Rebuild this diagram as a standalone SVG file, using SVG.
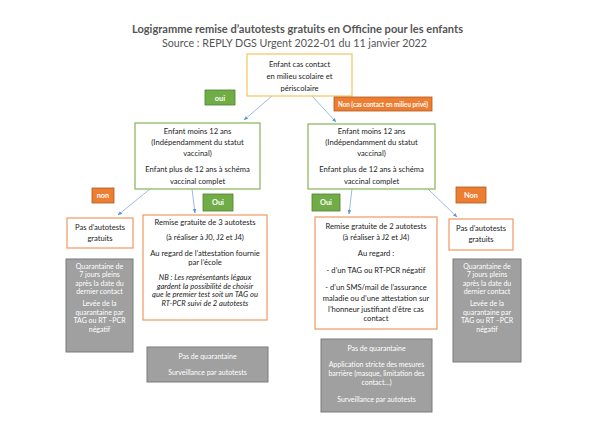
<svg xmlns="http://www.w3.org/2000/svg" width="600" height="433" viewBox="0 0 600 433">
<defs>
<marker id="ah" viewBox="0 0 10 10" refX="9" refY="5" markerWidth="5" markerHeight="5" orient="auto"><path d="M0,1 L10,5 L0,9 z" fill="#5b9bd5"/></marker>
</defs>
<style>
text{font-family:Lato,"Open Sans","Liberation Sans",sans-serif;text-anchor:middle;font-size:7.6px;fill:#222}
.t1{font-size:11.2px;font-weight:bold;fill:#555}
.t2{font-size:10.6px;fill:#555}
.yb{fill:#fff;stroke:#f7c86a;stroke-width:1.3}
.gb{fill:#fff;stroke:#8dbb63;stroke-width:1.3}
.ob{fill:#fff;stroke:#f2a06a;stroke-width:1.3}
.gr{fill:#a0a0a0;stroke:#7a7a7a;stroke-width:1}
text.w{fill:#fff;font-size:7px}
.lg{fill:#70ad47;stroke:#507e32;stroke-width:0.8}
.lo{fill:#ed7d31;stroke:#ae5a21;stroke-width:0.8}
.lt{fill:#fff;font-weight:bold;font-size:7.4px}
.it{font-style:italic}
.c{stroke:#8fb4de;stroke-width:0.9;fill:none;marker-end:url(#ah)}
</style>
<rect width="600" height="433" fill="#fff"/>
<g id="title">
<text class="t1" x="297.5" y="33" textLength="331" lengthAdjust="spacingAndGlyphs">Logigramme remise d’autotests gratuits en Officine pour les enfants</text>
<text class="t2" x="294.5" y="47" textLength="265" lengthAdjust="spacingAndGlyphs">Source : REPLY DGS Urgent 2022-01 du 11 janvier 2022</text>
</g>
<g id="connectors">
<line class="c" x1="272" y1="96" x2="244" y2="120"/>
<line class="c" x1="312" y1="96" x2="336" y2="122"/>
<line class="c" x1="150" y1="189" x2="118" y2="215"/>
<line class="c" x1="192" y1="189" x2="195" y2="213"/>
<line class="c" x1="352" y1="189" x2="349" y2="214"/>
<line class="c" x1="428" y1="189" x2="457" y2="217"/>
</g>
<g id="n-top">
<rect class="yb" x="247" y="54" width="105" height="42"/>
<text x="299.5" y="67">Enfant cas contact</text>
<text x="299.5" y="79">en milieu scolaire et</text>
<text x="299.5" y="91">périscolaire</text>
</g>
<g id="l-oui1">
<rect class="lg" x="205" y="90" width="30" height="15"/>
<text class="lt" x="220" y="100.5">oui</text>
</g>
<g id="l-non1">
<rect class="lo" x="334" y="97" width="98" height="14"/>
<text class="lt" x="383" y="106.5" font-size="6.6" textLength="90" lengthAdjust="spacingAndGlyphs">Non (cas contact en milieu privé)</text>
</g>
<g id="n-left">
<rect class="gb" x="135" y="123" width="125" height="66"/>
<text x="197.5" y="134">Enfant moins 12 ans</text>
<text x="197.5" y="145">(Indépendamment du statut</text>
<text x="197.5" y="156">vaccinal)</text>
<text x="197.5" y="172">Enfant plus de 12 ans à schéma</text>
<text x="197.5" y="184">vaccinal complet</text>
</g>
<g id="n-right">
<rect class="gb" x="308" y="124" width="127" height="65"/>
<text x="371.5" y="134">Enfant moins 12 ans</text>
<text x="371.5" y="145">(Indépendamment du statut</text>
<text x="371.5" y="156">vaccinal)</text>
<text x="371.5" y="172">Enfant plus de 12 ans à schéma</text>
<text x="371.5" y="184">vaccinal complet</text>
</g>
<g id="l-non2">
<rect class="lo" x="92" y="188" width="22" height="15"/>
<text class="lt" x="103" y="198">non</text>
</g>
<g id="l-oui2">
<rect class="lg" x="203" y="194" width="30" height="17"/>
<text class="lt" x="218" y="205">Oui</text>
</g>
<g id="l-oui3">
<rect class="lg" x="312" y="194" width="28" height="17"/>
<text class="lt" x="326" y="205">Oui</text>
</g>
<g id="l-non3">
<rect class="lo" x="456" y="187" width="30" height="16"/>
<text class="lt" x="471" y="198">Non</text>
</g>
<g id="n-pas-left">
<rect class="ob" x="67" y="218" width="66" height="30"/>
<text x="100" y="230">Pas d’autotests</text>
<text x="100" y="241">gratuits</text>
</g>
<g id="n-3tests">
<rect class="ob" x="143" y="215" width="124" height="105"/>
<text x="205" y="225">Remise gratuite de 3 autotests</text>
<text x="205" y="240">(à réaliser à J0, J2 et J4)</text>
<text x="205" y="256">Au regard de l’attestation fournie</text>
<text x="205" y="265">par l’école</text>
<text class="it" x="205" y="280">NB : Les représentants légaux</text>
<text class="it" x="205" y="288.5">gardent la possibilité de choisir</text>
<text class="it" x="205" y="297">que le premier test soit un TAG ou</text>
<text class="it" x="205" y="305.5">RT-PCR suivi de 2 autotests</text>
</g>
<g id="n-2tests">
<rect class="ob" x="315" y="217" width="122" height="112"/>
<text x="376" y="229">Remise gratuite de 2 autotests</text>
<text x="376" y="240">(à réaliser à J2 et J4)</text>
<text x="376" y="256">Au regard :</text>
<text x="376" y="273">- d’un TAG ou RT-PCR négatif</text>
<text x="376" y="290">- d’un SMS/mail de l’assurance</text>
<text x="376" y="301">maladie ou d’une attestation sur</text>
<text x="376" y="312">l’honneur justifiant d’être cas</text>
<text x="376" y="321">contact</text>
</g>
<g id="n-pas-right">
<rect class="ob" x="449" y="219" width="64" height="31"/>
<text x="481" y="231">Pas d’autotests</text>
<text x="481" y="242">gratuits</text>
</g>
<g id="n-q-left">
<rect class="gr" x="66" y="259" width="67" height="93"/>
<text class="w" x="99.5" y="268.5">Quarantaine de</text>
<text class="w" x="99.5" y="277">7 jours pleins</text>
<text class="w" x="99.5" y="285.5">après la date du</text>
<text class="w" x="99.5" y="294">dernier contact</text>
<text class="w" x="99.5" y="306">Levée de la</text>
<text class="w" x="99.5" y="314.5">quarantaine par</text>
<text class="w" x="99.5" y="323">TAG ou RT –PCR</text>
<text class="w" x="99.5" y="331.5">négatif</text>
</g>
<g id="n-q-right">
<rect class="gr" x="453" y="259" width="68" height="103"/>
<text class="w" x="487" y="268.5">Quarantaine de</text>
<text class="w" x="487" y="277">7 jours pleins</text>
<text class="w" x="487" y="285.5">après la date du</text>
<text class="w" x="487" y="294">dernier contact</text>
<text class="w" x="487" y="306">Levée de la</text>
<text class="w" x="487" y="314.5">quarantaine par</text>
<text class="w" x="487" y="323">TAG ou RT –PCR</text>
<text class="w" x="487" y="331.5">négatif</text>
</g>
<g id="n-pasq-left">
<rect class="gr" x="147" y="347" width="121" height="35"/>
<text class="w" x="207.5" y="359">Pas de quarantaine</text>
<text class="w" x="207.5" y="375">Surveillance par autotests</text>
</g>
<g id="n-pasq-right">
<rect class="gr" x="321" y="339" width="111" height="73"/>
<text class="w" x="376.5" y="351">Pas de quarantaine</text>
<text class="w" x="376.5" y="367">Application stricte des mesures</text>
<text class="w" x="376.5" y="376">barrière (masque, limitation des</text>
<text class="w" x="376.5" y="385">contact…)</text>
<text class="w" x="376.5" y="402">Surveillance par autotests</text>
</g>
</svg>
